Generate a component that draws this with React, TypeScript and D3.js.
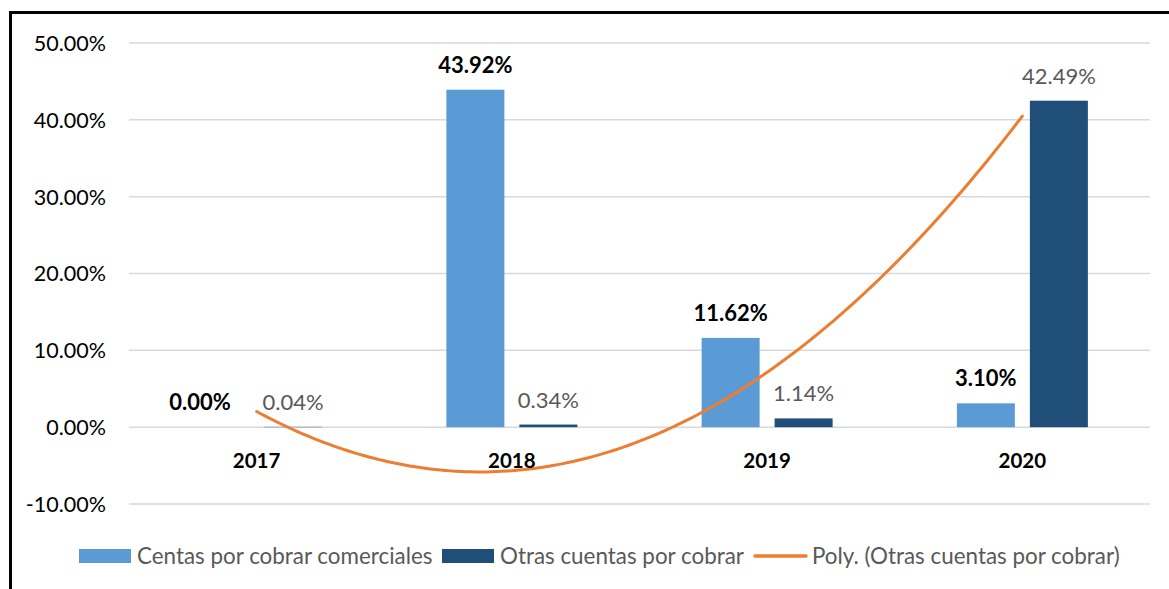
import React from "react";
import * as d3 from "d3";

const categories = ["2017", "2018", "2019", "2020"];
const ventas = [0.0, 43.92, 11.62, 3.1];
const otras = [0.04, 0.34, 1.14, 42.49];
const yTicks = [-10, 0, 10, 20, 30, 40, 50];
const seriesNames = [
  "Centas por cobrar comerciales",
  "Otras cuentas por cobrar",
  "Poly. (Otras cuentas por cobrar)",
];

const W = 1169;
const H = 589;
const FONT = "Lato, 'Open Sans', sans-serif";
const C_LIGHT = "#5B9BD5";
const C_DARK = "#1F4E79";
const C_ORANGE = "#ED7D31";

// least-squares quadratic fit (like Excel's polynomial trendline, order 2)
function polyFit2(ys: number[]) {
  const xs = ys.map((_, i) => i + 1);
  const n = ys.length;
  const m = d3.mean(xs)!;
  const t = xs.map((x) => x - m);
  const St2 = d3.sum(t, (v) => v * v);
  const St4 = d3.sum(t, (v) => v ** 4);
  const Sy = d3.sum(ys);
  const Sty = d3.sum(t, (v, i) => v * ys[i]);
  const St2y = d3.sum(t, (v, i) => v * v * ys[i]);
  const b = Sty / St2;
  const c = (St2y - (St2 * Sy) / n) / (St4 - (St2 * St2) / n);
  const a = (Sy - c * St2) / n;
  return (x: number) => a + b * (x - m) + c * (x - m) * (x - m);
}

export default function App() {
  const left = 129;
  const right = 1150;
  const x = d3.scaleBand<string>().domain(categories).range([left, right]);
  const y = d3.scaleLinear().domain([-10, 50]).range([504, 43]);
  const barW = 58;
  const gap = 15;
  const fit = polyFit2(otras);

  const cx = (i: number) => x(categories[i])! + x.bandwidth() / 2;
  const trendPts = d3.range(0, 3.0001, 0.02).map((k) => [
    cx(0) + k * x.bandwidth(),
    y(fit(k + 1)),
  ]);
  const line = d3.line().curve(d3.curveLinear);

  const fmt = (v: number) => v.toFixed(2) + "%";

  return (
    <svg
      width={W}
      height={H}
      style={{ position: "absolute", left: 0, top: 0, background: "#fff" }}
      fontFamily={FONT}
    >
      <rect x={0} y={0} width={W} height={H} fill="#fff" />
      {/* frame */}
      <line x1={9} x2={W} y1={12.5} y2={12.5} stroke="#000" strokeWidth={3} />
      <line x1={10.5} x2={10.5} y1={11} y2={H} stroke="#000" strokeWidth={3} />

      {/* gridlines */}
      {yTicks.map((t) => (
        <g key={t}>
          <line x1={left} x2={right} y1={y(t)} y2={y(t)} stroke="#D9D9D9" strokeWidth={1.5} />
          <text
            x={106}
            y={y(t)}
            dy="0.37em"
            textAnchor="end"
            fontSize={21.5}
            fill="#000"
          >
            {t.toFixed(2) + "%"}
          </text>
        </g>
      ))}

      {/* bars */}
      {categories.map((c, i) => {
        const xl = cx(i) - gap / 2 - barW;
        const xd = cx(i) + gap / 2;
        const y0 = y(0);
        return (
          <g key={c}>
            <rect
              x={xl}
              y={Math.min(y(ventas[i]), y0)}
              width={barW}
              height={Math.abs(y0 - y(ventas[i]))}
              fill={C_LIGHT}
            />
            <rect
              x={xd}
              y={Math.min(y(otras[i]), y0)}
              width={barW}
              height={Math.abs(y0 - y(otras[i]))}
              fill={C_DARK}
            />
          </g>
        );
      })}

      {/* trendline */}
      <path
        d={line(trendPts as [number, number][])!}
        fill="none"
        stroke={C_ORANGE}
        strokeWidth={3}
        strokeLinecap="round"
      />

      {/* data labels */}
      {categories.map((c, i) => {
        const xl = cx(i) - gap / 2 - barW / 2 + (i === 0 ? -20 : 0);
        const xd = cx(i) + gap / 2 + barW / 2;
        return (
          <g key={"l" + c}>
            <text
              x={xl}
              y={y(ventas[i]) - 17}
              textAnchor="middle"
              fontSize={22}
              fontWeight="bold"
              fill="#000"
            >
              {fmt(ventas[i])}
            </text>
            <text
              x={xd}
              y={y(otras[i]) - 17}
              textAnchor="middle"
              fontSize={22}
              fill="#595959"
            >
              {fmt(otras[i])}
            </text>
            <text
              x={cx(i)}
              y={468}
              textAnchor="middle"
              fontSize={20.5}
              fontWeight="bold"
              fill="#000"
            >
              {c}
            </text>
          </g>
        );
      })}

      {/* legend */}
      <g fontSize={22.4} fill="#595959">
        <rect x={79} y={549} width={52} height={14} fill={C_LIGHT} />
        <text x={137} y={564}>{seriesNames[0]}</text>
        <rect x={442} y={549} width={52} height={14} fill={C_DARK} />
        <text x={500} y={564}>{seriesNames[1]}</text>
        <line x1={755} x2={806} y1={556} y2={556} stroke={C_ORANGE} strokeWidth={3.5} strokeLinecap="round" />
        <text x={812} y={564}>{seriesNames[2]}</text>
      </g>
    </svg>
  );
}
